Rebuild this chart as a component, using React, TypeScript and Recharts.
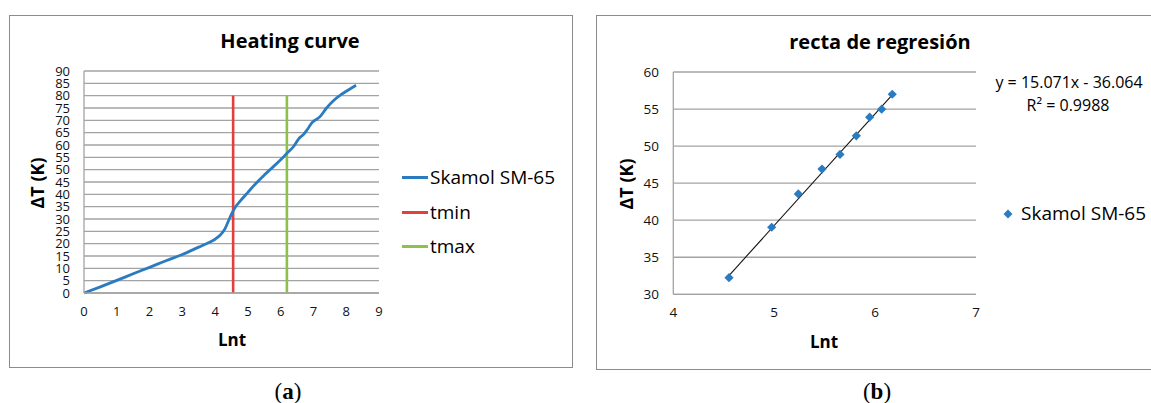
import React from 'react';
import { ComposedChart, Line, Scatter, XAxis, YAxis, CartesianGrid } from 'recharts';

const FONT = "'Open Sans', sans-serif";

// Panel (a): heating curve
const heatLnt = [0, 0.5, 1, 1.5, 2, 2.5, 3, 3.5, 3.75, 4, 4.15, 4.3, 4.4, 4.5, 4.6, 4.75, 5, 5.25, 5.5, 5.7, 6, 6.2, 6.4, 6.55, 6.7, 6.8, 6.95, 7.2, 7.4, 7.6, 7.85, 8, 8.15, 8.3];
const heatDT = [0, 2.5, 5.1, 7.8, 10.4, 13.1, 15.6, 18.6, 20.1, 21.8, 23.4, 26, 29, 32, 34.5, 37, 40.8, 44.5, 47.8, 50.3, 54, 56.8, 59.5, 62.5, 64.3, 66, 69, 71.5, 75, 77.8, 80.5, 81.8, 83, 84.2];
const tminLnt = [4.55, 4.55];
const tmaxLnt = [6.19, 6.19];
const markerDT = [0, 80];
const heatXTicks = [0, 1, 2, 3, 4, 5, 6, 7, 8, 9];
const heatYTicks = [0, 5, 10, 15, 20, 25, 30, 35, 40, 45, 50, 55, 60, 65, 70, 75, 80, 85, 90];

// Panel (b): regression
const regLnt = [4.552, 4.975, 5.239, 5.474, 5.652, 5.814, 5.946, 6.065, 6.17];
const regDT = [32.25, 39.05, 43.54, 46.9, 48.88, 51.39, 53.9, 54.98, 57.0];
const trendLnt = [4.55, 6.17];
const trendDT = [32.5, 56.9];
const regXTicks = [4, 5, 6, 7];
const regYTicks = [30, 35, 40, 45, 50, 55, 60];

const BLUE = '#2b7bc1';
const RED = '#e2403b';
const GREEN = '#8dc24a';
const GRID = '#a3a3a3';

const heatData = heatLnt.map((x, i) => ({ x, y: heatDT[i] }));
const tminData = tminLnt.map((x, i) => ({ x, y: markerDT[i] }));
const tmaxData = tmaxLnt.map((x, i) => ({ x, y: markerDT[i] }));
const regData = regLnt.map((x, i) => ({ x, y: regDT[i] }));
const trendData = trendLnt.map((x, i) => ({ x, y: trendDT[i] }));

const T = ({ x, y, size, bold, children, family, rotate, color }: any) => (
  <div
    style={{
      position: 'absolute',
      left: x,
      top: y,
      transform: `translate(-50%, -50%)${rotate ? ` rotate(${rotate}deg)` : ''}`,
      fontSize: size,
      fontWeight: bold ? 700 : 400,
      fontFamily: family || FONT,
      whiteSpace: 'nowrap',
      lineHeight: 1,
      color: color || '#000',
    }}
  >
    {children}
  </div>
);

const L = ({ x, y, size, children }: any) => (
  <div
    style={{
      position: 'absolute',
      left: x,
      top: y,
      transform: 'translateY(-50%)',
      fontSize: size,
      fontFamily: FONT,
      whiteSpace: 'nowrap',
      lineHeight: 1,
      color: '#000',
    }}
  >
    {children}
  </div>
);

const Diamond = (props: any) => {
  const { cx, cy } = props;
  const r = 4.6;
  return <polygon points={`${cx},${cy - r} ${cx + r},${cy} ${cx},${cy + r} ${cx - r},${cy}`} fill={BLUE} />;
};

export default function App() {
  const tickStyle = { fill: '#111', fontSize: 13, fontFamily: FONT };
  const tickStyleB = { fill: '#111', fontSize: 13.5, fontFamily: FONT };
  return (
    <div style={{ position: 'absolute', left: 0, top: 0, width: 1151, height: 403, overflow: 'hidden', background: '#fff' }}>
      {/* panel borders */}
      <div style={{ position: 'absolute', left: 9, top: 15, width: 564, height: 353, border: '1px solid #8c8c8c', boxSizing: 'border-box' }} />
      <div style={{ position: 'absolute', left: 596, top: 15, width: 600, height: 355, border: '1px solid #8c8c8c', boxSizing: 'border-box' }} />

      {/* chart (a) */}
      <div style={{ position: 'absolute', left: 0, top: 0 }}>
        <ComposedChart width={580} height={403} data={heatData} margin={{ top: 71, left: 0, right: 201, bottom: 0 }}>
          <CartesianGrid vertical={false} stroke={GRID} strokeWidth={1.3} />
          <XAxis
            dataKey="x"
            type="number"
            domain={[0, 9]}
            ticks={heatXTicks}
            height={110}
            tickLine={false}
            tickSize={0}
            tickMargin={14}
            axisLine={{ stroke: GRID, strokeWidth: 1.3 }}
            tick={tickStyle}
            interval={0}
          />
          <YAxis
            type="number"
            domain={[0, 90]}
            ticks={heatYTicks}
            width={84}
            tickLine={false}
            tickSize={0}
            tickMargin={14}
            axisLine={{ stroke: GRID, strokeWidth: 1.3 }}
            tick={tickStyle}
            interval={0}
          />
          <Line dataKey="y" data={tminData} stroke={RED} strokeWidth={2.6} dot={false} isAnimationActive={false} />
          <Line dataKey="y" data={tmaxData} stroke={GREEN} strokeWidth={2.6} dot={false} isAnimationActive={false} />
          <Line dataKey="y" stroke={BLUE} strokeWidth={2.8} dot={false} type="monotone" isAnimationActive={false} />
        </ComposedChart>
      </div>

      {/* chart (b) */}
      <div style={{ position: 'absolute', left: 580, top: 0 }}>
        <ComposedChart width={571} height={403} margin={{ top: 72, left: 0, right: 175, bottom: 0 }}>
          <CartesianGrid vertical={false} stroke={GRID} strokeWidth={1.3} />
          <XAxis
            dataKey="x"
            type="number"
            domain={[4, 7]}
            ticks={regXTicks}
            height={108.7}
            tickLine={false}
            tickSize={0}
            tickMargin={13.5}
            axisLine={{ stroke: GRID, strokeWidth: 1.3 }}
            tick={tickStyleB}
            interval={0}
          />
          <YAxis
            type="number"
            domain={[30, 60]}
            ticks={regYTicks}
            width={93.3}
            tickLine={false}
            tickSize={0}
            tickMargin={14.3}
            axisLine={{ stroke: GRID, strokeWidth: 1.3 }}
            tick={tickStyleB}
            interval={0}
          />
          <Scatter data={regData} dataKey="y" shape={<Diamond />} isAnimationActive={false} />
          <Line data={trendData} dataKey="y" stroke="#111" strokeWidth={1.1} dot={false} isAnimationActive={false} />
        </ComposedChart>
      </div>

      {/* texts (a) */}
      <T x={290} y={41} size={20} bold>Heating curve</T>
      <T x={37} y={183} size={18} bold rotate={-90}>ΔT (K)</T>
      <T x={232} y={339} size={17} bold>Lnt</T>
      <div style={{ position: 'absolute', left: 402, top: 175.5, width: 26, height: 3, background: BLUE }} />
      <div style={{ position: 'absolute', left: 402, top: 210.5, width: 26, height: 3, background: RED }} />
      <div style={{ position: 'absolute', left: 402, top: 244.5, width: 26, height: 3, background: GREEN }} />
      <L x={430} y={177} size={19}>Skamol SM-65</L>
      <L x={430} y={212} size={19}>tmin</L>
      <L x={430} y={246} size={19}>tmax</L>
      <T x={288} y={391} size={23} family="'Liberation Serif', serif">(<b>a</b>)</T>

      {/* texts (b) */}
      <T x={880} y={42} size={20} bold>recta de regresión</T>
      <T x={626} y={184} size={18} bold rotate={-90}>ΔT (K)</T>
      <T x={824} y={341} size={17} bold>Lnt</T>
      <T x={1069} y={82} size={16}>y = 15.071x - 36.064</T>
      <T x={1068} y={105} size={16}>R² = 0.9988</T>
      <svg style={{ position: 'absolute', left: 1003, top: 209 }} width={10} height={10}>
        <polygon points="5,0.5 9.5,5 5,9.5 0.5,5" fill={BLUE} />
      </svg>
      <L x={1021} y={213} size={19}>Skamol SM-65</L>
      <T x={877} y={391} size={23} family="'Liberation Serif', serif">(<b>b</b>)</T>
    </div>
  );
}
